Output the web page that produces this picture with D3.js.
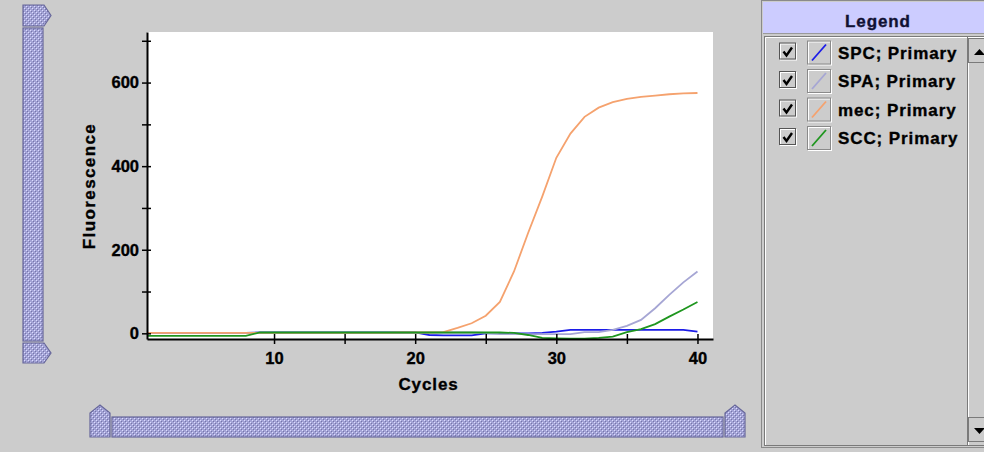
<!DOCTYPE html>
<html>
<head>
<meta charset="utf-8">
<script src="https://cdn.jsdelivr.net/npm/d3@7"></script>
<style>
  body { margin: 0; background: #cccccc; }
  svg { display: block; }
</style>
</head>
<body>
<div id="chart"></div>
<script>
// datos (ciclo 1..40)
const cycles = [1, 2, 3, 4, 5, 6, 7, 8, 9, 10, 11, 12, 13, 14, 15, 16, 17, 18, 19, 20,
                21, 22, 23, 24, 25, 26, 27, 28, 29, 30, 31, 32, 33, 34, 35, 36, 37, 38, 39, 40];
const spc = [1, 1, 1, 1, 1, 1, 1, 1, 2, 2, 2, 2, 2, 2, 2, 2, 2, 2, 2, 2,
             -4, -5, -5, -5, 0, 0, 0, 0, 1, 4, 8, 8, 8, 8, 8, 8, 8, 8, 8, 4];
const spa = [1, 1, 1, 1, 1, 1, 1, 1, 2, 2, 2, 2, 2, 2, 2, 2, 2, 2, 2, 2,
             2, 2, 2, 2, 1, -2, -2, -2, -2, -2, -2, 3, 3, 8, 18, 32, 60, 92, 122, 148];
const mec = [1, 1, 1, 1, 1, 1, 1, 1, 1, 1, 1, 1, 1, 1, 1, 1, 1, 1, 2, 2,
             2, 3, 13, 24, 42, 75, 148, 240, 327, 420, 478, 518, 540, 553, 561, 566, 569, 572, 574, 575];
const scc = [-6, -6, -6, -6, -6, -6, -6, -6, 2, 2, 2, 2, 2, 2, 2, 2, 2, 2, 2, 2,
             2, 2, 2, 2, 2, 2, 1, -4, -11, -12, -13, -13, -11, -8, 3, 10, 22, 40, 57, 75];

const seriesNames = ["SPC; Primary", "SPA; Primary", "mec; Primary", "SCC; Primary"];
const seriesValues = [spc, spa, mec, scc];
const seriesColors = ["#1c1ce8", "#a6a6d4", "#f5a26e", "#1f961f"];

const yMajorTicks = [0, 200, 400, 600];
const yMinorTicks = [100, 300, 500, 700];
const xMajorTicks = [10, 20, 30, 40];
const xMinorTicks = [15, 25, 35];

const W = 984, H = 452;
const plot = { left: 147, right: 713, top: 32, bottom: 339 };
const FONT = "'Liberation Sans', Arial, sans-serif";

const svg = d3.select("#chart").append("svg")
    .attr("width", W)
    .attr("height", H);

const defs = svg.append("defs");

// textura de "bumps" estilo Metal para los deslizadores
const bumps = defs.append("pattern")
    .attr("id", "bumps")
    .attr("width", 4).attr("height", 4)
    .attr("patternUnits", "userSpaceOnUse");
bumps.append("rect").attr("width", 4).attr("height", 4).attr("fill", "#a3a3d6");
bumps.append("rect").attr("x", 0).attr("y", 0).attr("width", 1).attr("height", 1).attr("fill", "#dcdcff");
bumps.append("rect").attr("x", 1).attr("y", 1).attr("width", 1).attr("height", 1).attr("fill", "#7676a8");
bumps.append("rect").attr("x", 2).attr("y", 2).attr("width", 1).attr("height", 1).attr("fill", "#dcdcff");
bumps.append("rect").attr("x", 3).attr("y", 3).attr("width", 1).attr("height", 1).attr("fill", "#7676a8");

defs.append("clipPath").attr("id", "plotClip")
  .append("rect")
    .attr("x", plot.left).attr("y", plot.top)
    .attr("width", plot.right - plot.left)
    .attr("height", plot.bottom - plot.top);

// escalas
const x = d3.scaleLinear().domain([1, 41.1]).range([plot.left, plot.right]);
const y = d3.scaleLinear().domain([-13.6, 721]).range([plot.bottom, plot.top]);

// fondo blanco del grafico
svg.append("rect")
    .attr("x", plot.left).attr("y", plot.top)
    .attr("width", plot.right - plot.left)
    .attr("height", plot.bottom - plot.top)
    .attr("fill", "#ffffff");

// lineas de las series
const line = d3.line()
    .x((d, i) => x(cycles[i]))
    .y(d => y(d));

const lines = svg.append("g").attr("clip-path", "url(#plotClip)");
seriesValues.forEach((vals, k) => {
  lines.append("path")
      .datum(vals)
      .attr("fill", "none")
      .attr("stroke", seriesColors[k])
      .attr("stroke-width", 1.8)
      .attr("d", line);
});

// texto en negrita algo mas gruesa, como el render de Java
function heavy(sel, size, spacing) {
  sel.attr("font-family", FONT)
     .attr("font-weight", "bold")
     .attr("font-size", size)
     .attr("letter-spacing", spacing)
     .attr("stroke", "currentColor")
     .attr("stroke-width", 0.35);
}

// eje X
const xAxis = svg.append("g")
    .attr("transform", `translate(0,${plot.bottom})`)
    .call(d3.axisBottom(x)
      .tickValues(xMajorTicks.concat(xMinorTicks))
      .tickFormat(d => xMajorTicks.includes(d) ? d : "")
      .tickSizeInner(5).tickSizeOuter(0).tickPadding(8));
xAxis.select(".domain").attr("stroke", "#000").attr("stroke-width", 2);
xAxis.selectAll(".tick line").attr("y1", -5).attr("y2", 5).attr("stroke-width", 1.5);
xAxis.selectAll("text").attr("fill", "#000").style("color", "#000").call(heavy, 16.5, 0);

// eje Y
const yAxis = svg.append("g")
    .attr("transform", `translate(${plot.left},0)`)
    .call(d3.axisLeft(y)
      .tickValues(yMajorTicks.concat(yMinorTicks))
      .tickFormat(d => yMajorTicks.includes(d) ? d : "")
      .tickSizeInner(5).tickSizeOuter(0).tickPadding(3));
yAxis.select(".domain").attr("stroke", "#000").attr("stroke-width", 2);
yAxis.selectAll(".tick line").attr("x1", -5).attr("x2", 4).attr("stroke-width", 1.5);
yAxis.selectAll("text").attr("fill", "#000").style("color", "#000").call(heavy, 16.5, 0);

// titulos de ejes
svg.append("text")
    .attr("x", 428.5).attr("y", 389.5)
    .attr("text-anchor", "middle")
    .attr("fill", "#000").style("color", "#000")
    .call(heavy, 17, 0.9)
    .text("Cycles");

svg.append("text")
    .attr("transform", "translate(95,186) rotate(-90)")
    .attr("text-anchor", "middle")
    .attr("fill", "#000").style("color", "#000")
    .call(heavy, 17, 1.4)
    .text("Fluorescence");

// deslizadores (vertical a la izquierda, horizontal abajo)
const slider = svg.append("g")
    .attr("fill", "url(#bumps)")
    .attr("stroke", "#66669a")
    .attr("stroke-width", 1.2);
slider.append("path").attr("d", "M23,5 H44 L51,15.5 L44,26 H23 Z");
slider.append("rect").attr("x", 23).attr("y", 28).attr("width", 20).attr("height", 313);
slider.append("path").attr("d", "M23,343 H44 L51,353 L44,363 H23 Z");
slider.append("path").attr("d", "M90,437 V413 L100,405 L110,413 V437 Z");
slider.append("rect").attr("x", 112).attr("y", 417).attr("width", 611).attr("height", 20);
slider.append("path").attr("d", "M725,437 V413 L735,405 L745,413 V437 Z");

// panel de leyenda
const panel = svg.append("g");
panel.append("rect")
    .attr("x", 761.5).attr("y", 0.5).attr("width", 230).attr("height", 447)
    .attr("fill", "#cccccc").attr("stroke", "#8a8a8a");
panel.append("rect")
    .attr("x", 763).attr("y", 2).attr("width", 225).attr("height", 31)
    .attr("fill", "#ccccff");
panel.append("line")
    .attr("x1", 763).attr("x2", 984).attr("y1", 33.5).attr("y2", 33.5)
    .attr("stroke", "#9a9a9a");
panel.append("text")
    .attr("x", 878).attr("y", 26.5)
    .attr("text-anchor", "middle")
    .attr("fill", "#111133").style("color", "#111133")
    .call(heavy, 17, 0.9)
    .text("Legend");

// zona de la lista
panel.append("rect")
    .attr("x", 764.5).attr("y", 36.5).attr("width", 224).attr("height", 409)
    .attr("fill", "#cccccc").attr("stroke", "#7a7a7a");
panel.append("path")
    .attr("d", "M765.5,445 V37.5 H988")
    .attr("fill", "none").attr("stroke", "#ffffff");

// barra de desplazamiento
const sb = panel.append("g");
sb.append("line").attr("x1", 967.5).attr("x2", 967.5).attr("y1", 37).attr("y2", 445)
    .attr("stroke", "#7a7a7a");
sb.append("line").attr("x1", 968.5).attr("x2", 968.5).attr("y1", 37).attr("y2", 445)
    .attr("stroke", "#ffffff");
sb.append("rect").attr("x", 968.5).attr("y", 38.5).attr("width", 20).attr("height", 24)
    .attr("fill", "#cccccc").attr("stroke", "#7a7a7a");
sb.append("path").attr("d", "M974,55 L979.5,49 L985,55 Z").attr("fill", "#000");
sb.append("rect").attr("x", 968.5).attr("y", 417.5).attr("width", 20).attr("height", 24)
    .attr("fill", "#cccccc").attr("stroke", "#7a7a7a");
sb.append("path").attr("d", "M974,428 L979.5,434 L985,428 Z").attr("fill", "#000");

// filas de la leyenda
const rowY = d3.scaleLinear().domain([0, 1]).range([52.5, 81]);
const rows = panel.selectAll(".row")
    .data(seriesNames)
    .enter().append("g")
    .attr("class", "row")
    .attr("transform", (d, i) => `translate(0,${rowY(i)})`);

// casilla
rows.append("rect")
    .attr("x", 780.5).attr("y", -8.5).attr("width", 16).attr("height", 16)
    .attr("fill", "#cccccc").attr("stroke", "#ffffff");
rows.append("rect")
    .attr("x", 779.5).attr("y", -9.5).attr("width", 16).attr("height", 16)
    .attr("fill", "none").attr("stroke", "#555555");
rows.append("path")
    .attr("d", "M783.5,-1 L786.5,3 L792,-5")
    .attr("fill", "none").attr("stroke", "#000").attr("stroke-width", 2.4);

// muestra de color
rows.append("rect")
    .attr("x", 808.5).attr("y", -10.5).attr("width", 23).attr("height", 23)
    .attr("fill", "#cccccc").attr("stroke", "#ffffff");
rows.append("rect")
    .attr("x", 807.5).attr("y", -11.5).attr("width", 23).attr("height", 23)
    .attr("fill", "none").attr("stroke", "#8a8a8a");
rows.append("line")
    .attr("x1", 812).attr("y1", 8).attr("x2", 826).attr("y2", -8)
    .attr("stroke", (d, i) => seriesColors[i])
    .attr("stroke-width", 1.8);

rows.append("text")
    .attr("x", 838).attr("y", 6)
    .attr("fill", "#000").style("color", "#000")
    .call(heavy, 17, 0.9)
    .text(d => d);
</script>
</body>
</html>
